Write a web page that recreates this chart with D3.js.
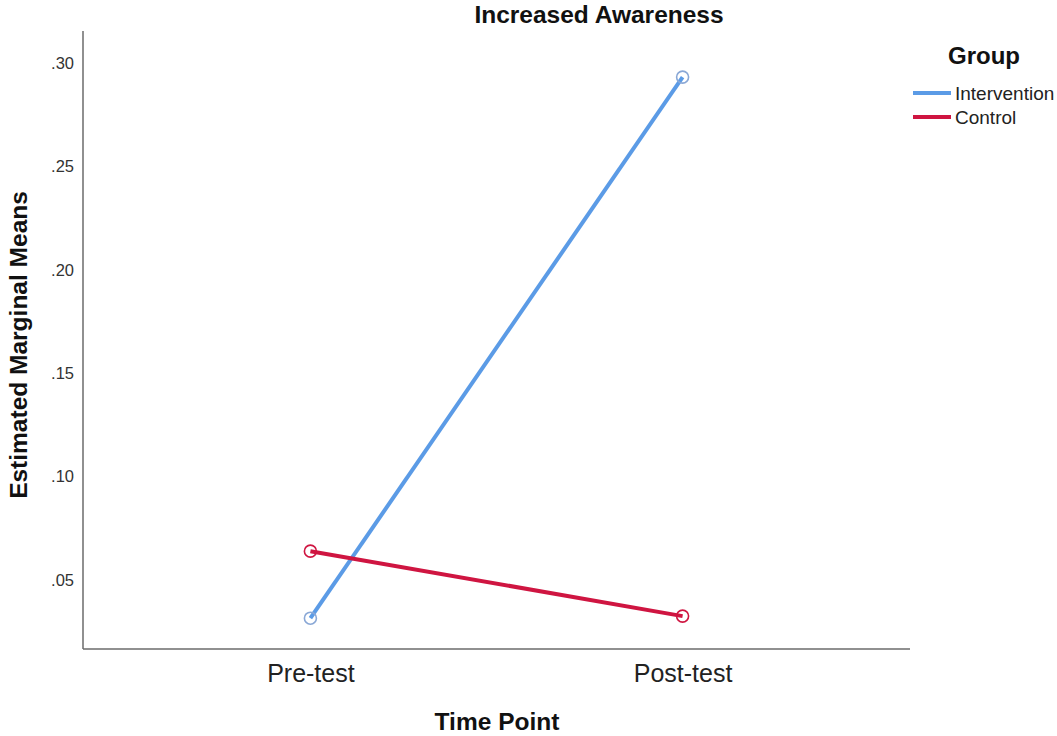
<!DOCTYPE html>
<html>
<head>
<meta charset="utf-8">
<script src="https://cdn.jsdelivr.net/npm/d3@7"></script>
<style>
  body { margin: 0; background: #fff; }
  text { font-family: Arial, "Liberation Sans", sans-serif; }
</style>
</head>
<body>
<div id="chart"></div>
<script>
// data
var timePoints = ["Pre-test", "Post-test"];
var groups = ["Intervention", "Control"];
var groupColors = ["#5b9be6", "#cf1541"];
var markerColors = ["#8aa8d6", "#cf1541"];
var interventionMeans = [0.0316, 0.2932];
var controlMeans = [0.0640, 0.0326];
var yTicks = [0.05, 0.10, 0.15, 0.20, 0.25, 0.30];

var series = [
  {name: groups[0], values: interventionMeans, color: groupColors[0], marker: markerColors[0]},
  {name: groups[1], values: controlMeans, color: groupColors[1], marker: markerColors[1]}
];

var W = 1057, H = 736;
var plot = {left: 83, right: 910, top: 31, bottom: 649};

var svg = d3.select("#chart").append("svg")
    .attr("width", W)
    .attr("height", H);

var x = d3.scalePoint().domain(timePoints).range([plot.left, plot.right]).padding(0.611);
var y = d3.scaleLinear().domain([0.0167, 0.3155]).range([plot.bottom, plot.top]);

// axes lines (no tick marks in the original)
svg.append("line")
    .attr("x1", plot.left).attr("x2", plot.left)
    .attr("y1", plot.top).attr("y2", plot.bottom)
    .attr("stroke", "#6b6b6b").attr("stroke-width", 1.5);
svg.append("line")
    .attr("x1", plot.left).attr("x2", plot.right)
    .attr("y1", plot.bottom).attr("y2", plot.bottom)
    .attr("stroke", "#6b6b6b").attr("stroke-width", 1.5);

var yAxis = d3.axisLeft(y).tickValues(yTicks).tickSize(0).tickPadding(9)
    .tickFormat(function(d) { return d3.format(".2f")(d).replace(/^0/, ""); });
var gy = svg.append("g")
    .attr("transform", "translate(" + plot.left + ",0)")
    .call(yAxis);
gy.select(".domain").remove();
gy.selectAll("text")
    .style("font-size", "16.5px")
    .attr("fill", "#333");

var xAxis = d3.axisBottom(x).tickSize(0).tickPadding(15);
var gx = svg.append("g")
    .attr("transform", "translate(0," + plot.bottom + ")")
    .call(xAxis);
gx.select(".domain").remove();
gx.selectAll("text")
    .style("font-size", "25px")
    .attr("fill", "#222");

// lines
var line = d3.line()
    .x(function(d, i) { return x(timePoints[i]); })
    .y(function(d) { return y(d); });

svg.append("g").selectAll("path")
    .data(series)
    .enter()
    .append("path")
    .attr("d", function(d) { return line(d.values); })
    .attr("fill", "none")
    .attr("stroke", function(d) { return d.color; })
    .attr("stroke-width", 4);

// markers
series.forEach(function(s) {
  svg.append("g").selectAll("circle")
      .data(s.values)
      .enter()
      .append("circle")
      .attr("cx", function(d, i) { return x(timePoints[i]); })
      .attr("cy", function(d) { return y(d); })
      .attr("r", 6)
      .attr("fill", "none")
      .attr("stroke", s.marker)
      .attr("stroke-width", 1.6);
});

// titles
svg.append("text")
    .attr("x", 599).attr("y", 23)
    .attr("text-anchor", "middle")
    .style("font-size", "24.5px").style("font-weight", "bold")
    .attr("fill", "#111")
    .text("Increased Awareness");

svg.append("text")
    .attr("transform", "translate(27,345) rotate(-90)")
    .attr("text-anchor", "middle")
    .style("font-size", "24.5px").style("font-weight", "bold")
    .attr("fill", "#111")
    .text("Estimated Marginal Means");

svg.append("text")
    .attr("x", 497).attr("y", 730)
    .attr("text-anchor", "middle")
    .style("font-size", "24.5px").style("font-weight", "bold")
    .attr("fill", "#111")
    .text("Time Point");

// legend
var legend = svg.append("g");
legend.append("text")
    .attr("x", 948).attr("y", 64)
    .style("font-size", "24px").style("font-weight", "bold")
    .attr("fill", "#111")
    .text("Group");

var items = legend.selectAll("g.item")
    .data(series)
    .enter()
    .append("g")
    .attr("class", "item")
    .attr("transform", function(d, i) { return "translate(913," + (93 + i * 24) + ")"; });
items.append("line")
    .attr("x1", 0).attr("x2", 38)
    .attr("stroke", function(d) { return d.color; })
    .attr("stroke-width", 4);
items.append("text")
    .attr("x", 42).attr("y", 7)
    .style("font-size", "19px")
    .attr("fill", "#222")
    .text(function(d) { return d.name; });
</script>
</body>
</html>
